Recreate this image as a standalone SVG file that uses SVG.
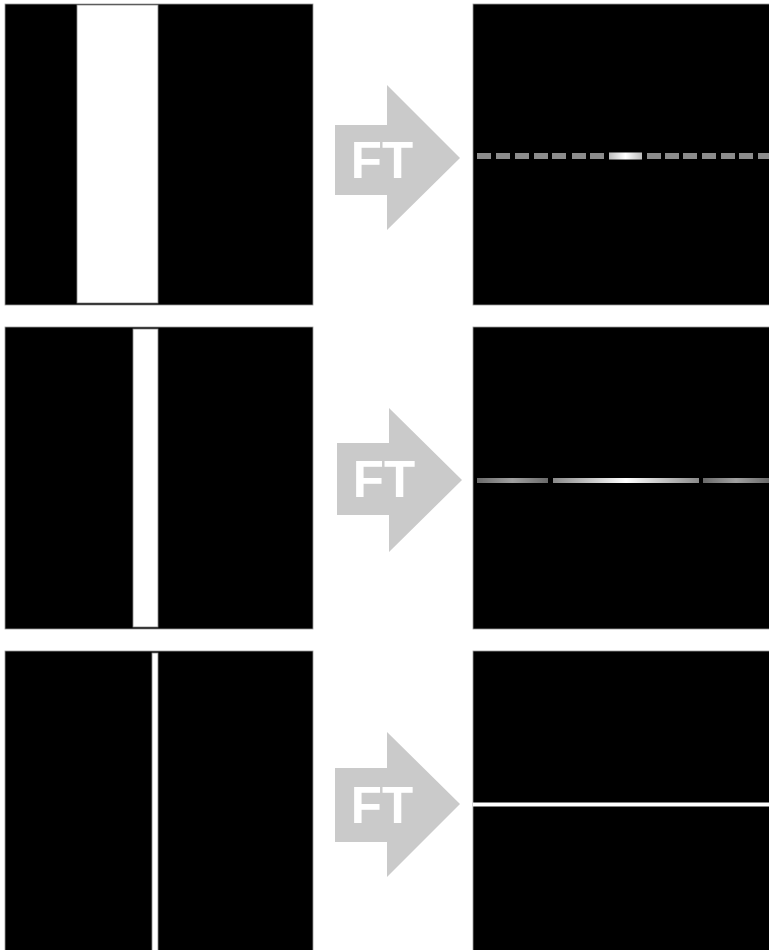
<svg xmlns="http://www.w3.org/2000/svg" width="769" height="950" viewBox="0 0 769 950">
<defs>
<style>
.panel{fill:#000;stroke:#9a9a9a;stroke-width:0.8}
.bar{fill:#fff;stroke:#8a8a8a;stroke-width:0.8}
.arrow{fill:#cacaca}
.ft{font-family:"Liberation Sans",Arial,sans-serif;font-weight:bold;font-size:51px;fill:#fff}
.dash{fill:#8c8c8c}
</style>
<linearGradient id="cg" x1="0" x2="1" y1="0" y2="0">
<stop offset="0" stop-color="#bdbdbd"/>
<stop offset="0.5" stop-color="#ffffff"/>
<stop offset="1" stop-color="#bdbdbd"/>
</linearGradient>
<linearGradient id="sg" x1="0" x2="1" y1="0" y2="0">
<stop offset="0" stop-color="#6a6a6a"/>
<stop offset="0.5" stop-color="#a0a0a0"/>
<stop offset="1" stop-color="#6a6a6a"/>
</linearGradient>
<linearGradient id="bg2" x1="0" x2="1" y1="0" y2="0">
<stop offset="0" stop-color="#8a8a8a"/>
<stop offset="0.5" stop-color="#ffffff"/>
<stop offset="1" stop-color="#8a8a8a"/>
</linearGradient>
<filter id="soft" x="-5%" y="-100%" width="110%" height="300%">
<feGaussianBlur stdDeviation="0.6"/>
</filter>
</defs>
<rect x="0" y="0" width="769" height="950" fill="#fff"/>

<g id="input1">
<rect class="panel" x="5" y="4" width="308" height="301"/>
<rect class="bar" x="77" y="5" width="81" height="298"/>
</g>
<g id="input2">
<rect class="panel" x="5" y="327" width="308" height="302"/>
<rect class="bar" x="133" y="329" width="25" height="298"/>
</g>
<g id="input3">
<rect class="panel" x="5" y="651" width="308" height="300"/>
<rect class="bar" x="152" y="653" width="6" height="298"/>
</g>

<g id="output1">
<rect class="panel" x="473" y="4" width="297" height="301"/>
<g filter="url(#soft)">
<rect class="dash" x="477" y="153" width="14" height="6"/>
<rect class="dash" x="496" y="153" width="14" height="6"/>
<rect class="dash" x="515" y="153" width="14" height="6"/>
<rect class="dash" x="534" y="153" width="14" height="6"/>
<rect class="dash" x="552" y="153" width="14" height="6"/>
<rect class="dash" x="572" y="153" width="14" height="6"/>
<rect class="dash" x="590" y="153" width="14" height="6"/>
<rect x="609" y="152.5" width="33" height="7" fill="url(#cg)"/>
<rect class="dash" x="647" y="153" width="14" height="6"/>
<rect class="dash" x="665" y="153" width="14" height="6"/>
<rect class="dash" x="683" y="153" width="14" height="6"/>
<rect class="dash" x="702" y="153" width="14" height="6"/>
<rect class="dash" x="721" y="153" width="14" height="6"/>
<rect class="dash" x="739" y="153" width="14" height="6"/>
<rect class="dash" x="758" y="153" width="11" height="6"/>
</g>
</g>
<g id="output2">
<rect class="panel" x="473" y="327" width="297" height="302"/>
<g filter="url(#soft)">
<rect x="477" y="478" width="71" height="5" fill="url(#sg)"/>
<rect x="553" y="478" width="146" height="5" fill="url(#bg2)"/>
<rect x="703" y="478" width="66" height="5" fill="url(#sg)"/>
</g>
</g>
<g id="output3">
<rect class="panel" x="473" y="651" width="297" height="300"/>
<rect x="473" y="802.5" width="296" height="4" fill="#fff"/>
</g>

<g id="connectors">
<g id="arrow1">
<polygon class="arrow" points="335,125 387,125 387,85 460,158 387,230 387,195 335,195"/>
<text class="ft" x="382" y="178" text-anchor="middle">FT</text>
</g>
<g id="arrow2">
<polygon class="arrow" points="337,443 389,443 389,408 462,480 389,552 389,515 337,515"/>
<text class="ft" x="384" y="497" text-anchor="middle">FT</text>
</g>
<g id="arrow3">
<polygon class="arrow" points="335,768 387,768 387,732 460,804 387,877 387,842 335,842"/>
<text class="ft" x="382" y="823" text-anchor="middle">FT</text>
</g>
</g>
</svg>
